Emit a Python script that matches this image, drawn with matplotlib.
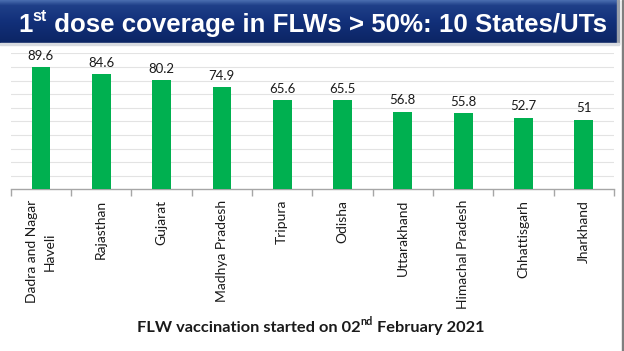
import numpy as np
import matplotlib
matplotlib.use("Agg")
import matplotlib.pyplot as plt
from matplotlib.patches import Rectangle
from matplotlib.colors import LinearSegmentedColormap
from matplotlib.transforms import ScaledTranslation

states = ["Dadra and Nagar\nHaveli", "Rajasthan", "Gujarat", "Madhya Pradesh", "Tripura",
          "Odisha", "Uttarakhand", "Himachal Pradesh", "Chhattisgarh", "Jharkhand"]
coverage = [89.6, 84.6, 80.2, 74.9, 65.6, 65.5, 56.8, 55.8, 52.7, 51]
value_labels = ["89.6", "84.6", "80.2", "74.9", "65.6", "65.5", "56.8", "55.8", "52.7", "51"]
title_parts = [("1", False), ("st", True), (" dose coverage in FLWs > 50%: 10 States/UTs", False)]
footer_parts = [("FLW vaccination started on 02", False), ("nd", True), (" February 2021", False)]

W, H = 624, 351
fig = plt.figure(figsize=(W / 100, H / 100), dpi=100)
fig.patch.set_facecolor("white")

# banner
bax = fig.add_axes([0, 1 - 43 / H, 617 / W, 43 / H])
grad = np.linspace(0, 1, 100).reshape(-1, 1)
cmap = LinearSegmentedColormap.from_list("b", [(0, "#4a6db0"), (0.12, "#1f3f88"), (0.5, "#12307a"), (1, "#0c2564")])
bax.imshow(grad, aspect="auto", cmap=cmap, extent=[0, 1, 1, 0])
bax.set_axis_off()
fig.patches.append(Rectangle((617 / W, 1 - 44 / H), 2 / W, 44 / H, transform=fig.transFigure,
                             color="#9aa0aa", zorder=0))
fig.patches.append(Rectangle((0, 1 - 45 / H), 619 / W, 2 / H, transform=fig.transFigure,
                             color="#d8dbe0", zorder=0))
fig.patches.append(Rectangle((621.5 / W, 0), 1.5 / W, 1, transform=fig.transFigure,
                             color="#7f7f7f", zorder=5))

ax = fig.add_axes([10.7 / W, 1 - 189.3 / H, (614 - 10.7) / W, (189.3 - 53.3) / H])
x = np.arange(len(states))
bars = ax.bar(x, coverage, width=0.31, color="#00b050", zorder=3)
ax.set_xlim(-0.5, len(states) - 0.5)
ax.set_ylim(0, 100)
ax.set_yticks(np.arange(10, 101, 10))
ax.yaxis.grid(True, color="#e3e3e3", linewidth=0.8, zorder=0)
ax.tick_params(axis="y", left=False, labelleft=False)
for s in ["top", "right", "left"]:
    ax.spines[s].set_visible(False)
ax.spines["bottom"].set_color("#a6a6a6")
ax.spines["bottom"].set_linewidth(1)
ax.set_xticks(np.arange(-0.5, len(states) + 0.5, 1))
ax.set_xticklabels([])
ax.tick_params(axis="x", length=5, color="#a6a6a6", width=1, direction="out")

fig.canvas.draw()
renderer = fig.canvas.get_renderer()
LINE_PX = 18.0
TOP_PX = 200.0
for xi, lab in zip(x, states):
    lines = lab.split("\n")
    n = len(lines)
    # measure the longest line
    lens = []
    for line in lines:
        tmp = fig.text(0, 0, line, rotation=90, fontsize=10, family="Lato")
        lens.append(tmp.get_window_extent(renderer=renderer).height)
        tmp.remove()
    center_px = TOP_PX + max(lens) / 2
    yc = 1 - (center_px - 53.3) / (189.3 - 53.3)
    for i, line in enumerate(lines):
        dx = (i - (n - 1) / 2) * LINE_PX
        tr = ax.get_xaxis_transform() + ScaledTranslation(dx / 100, 0, fig.dpi_scale_trans)
        ax.text(xi, yc, line, transform=tr, rotation=90,
                ha="center", va="center", fontsize=10, family="Lato", color="#1a1a1a")

for b, lab in zip(bars, value_labels):
    ax.annotate(lab, (b.get_x() + b.get_width() / 2, b.get_height()), xytext=(0, 4),
                textcoords="offset points", ha="center", va="bottom",
                fontsize=9.5, family="Lato", color="#1a1a1a")


def seq_text(parts, x0, y, size, sup_size, center, **kw):
    objs = []
    widths = []
    for t, sup in parts:
        o = fig.text(0, 0, t, fontsize=sup_size if sup else size, va="baseline", ha="left", **kw)
        bb = o.get_window_extent(renderer=renderer)
        objs.append((o, sup))
        widths.append(bb.width)
    total = sum(widths)
    start = (x0 * W - total / 2) if center else x0 * W
    cur = start
    for (o, sup), w in zip(objs, widths):
        yy = y + (size * 0.42 / 72 * 100 / H if sup else 0)
        o.set_position((cur / W, yy))
        cur += w


seq_text(title_parts, 18 / W, 1 - 32 / H, 18.6, 11.5, False, color="white", weight="bold",
         family="Liberation Sans")
seq_text(footer_parts, 310.5 / W, 1 - 332 / H, 11.8, 7.8, True, color="#1a1a1a", weight="bold",
         family="Lato")

fig.savefig("out.png", dpi=100)
